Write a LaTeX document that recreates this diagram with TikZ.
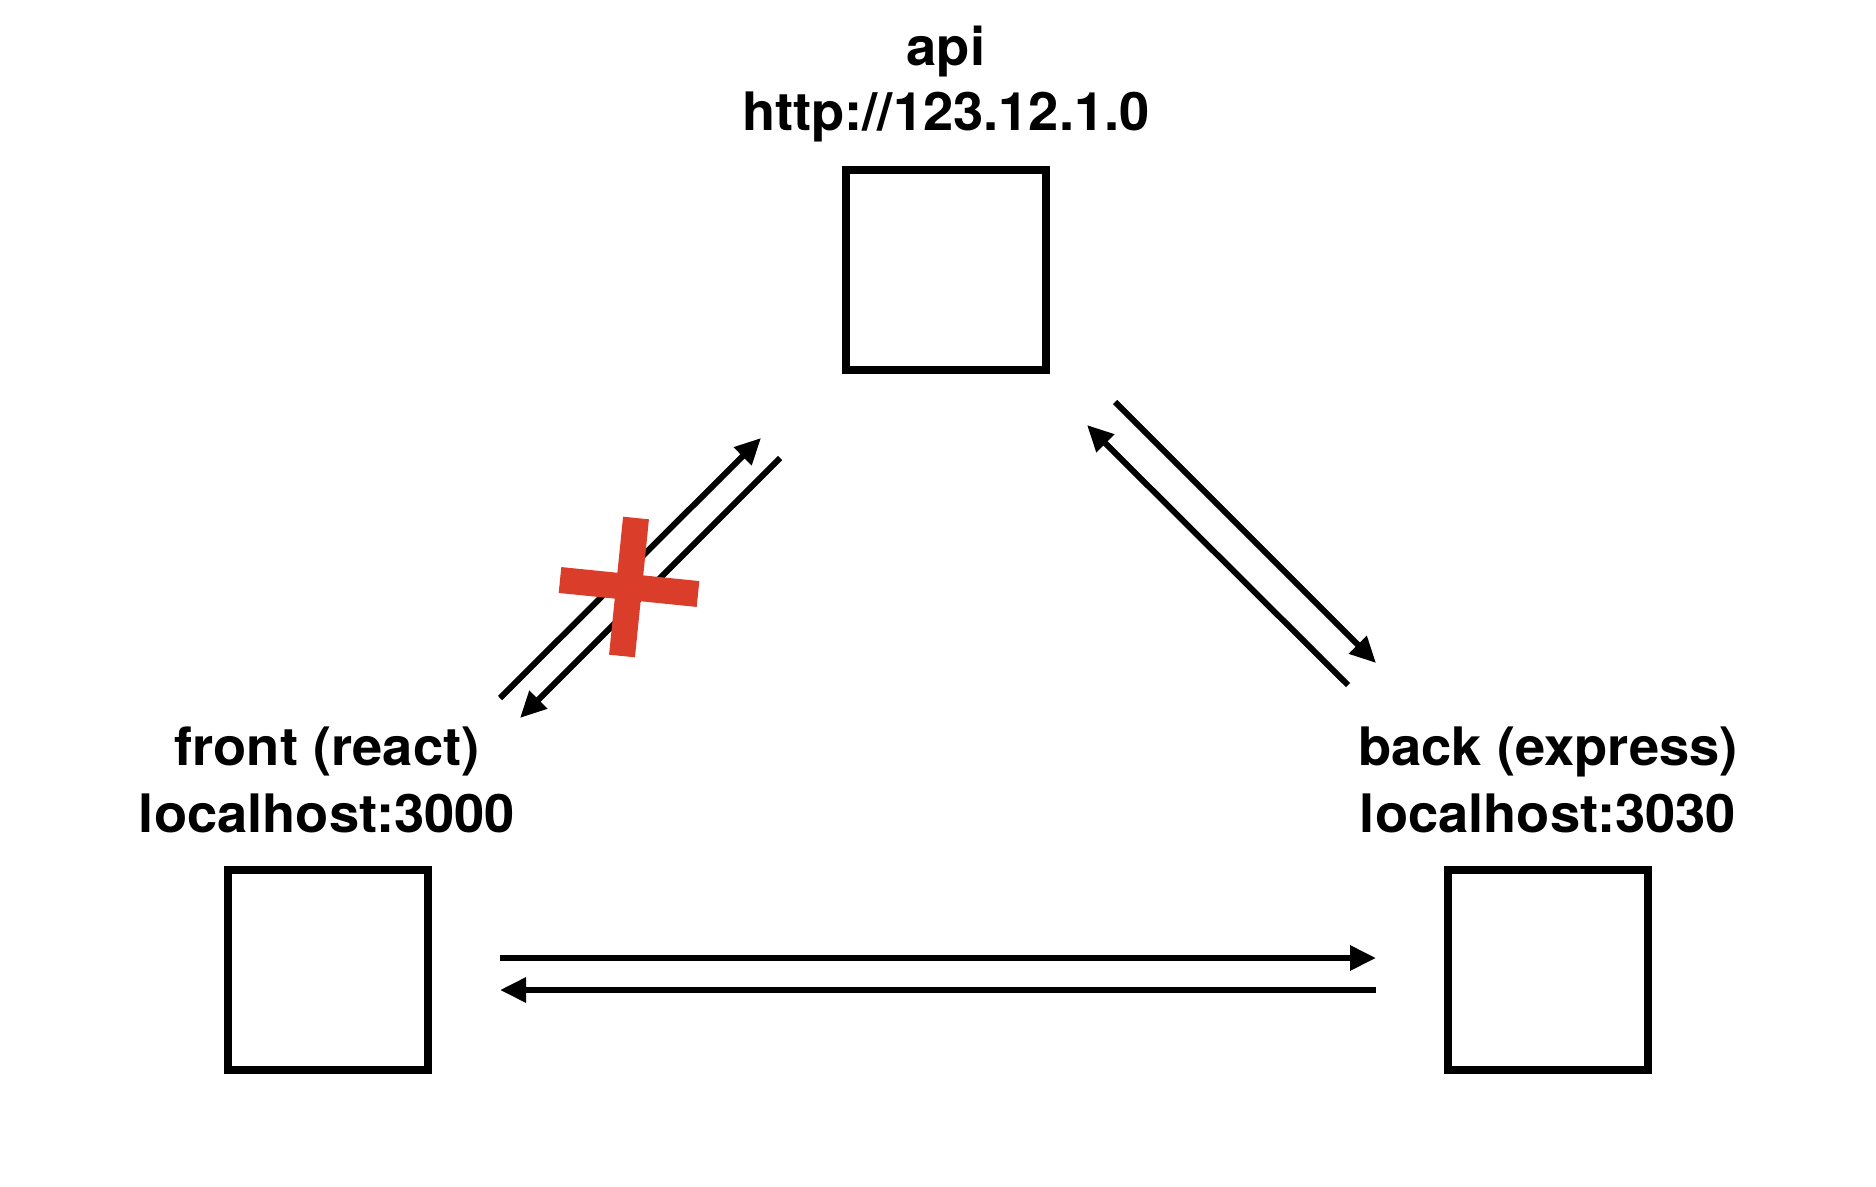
\documentclass[tikz,border=0pt]{standalone}
\usepackage{fontspec}
\setmainfont[FakeStretch=1.025]{TeX Gyre Heros}
\usetikzlibrary{arrows.meta}
\definecolor{xred}{RGB}{218,61,41}

\begin{document}
\begin{tikzpicture}[x=1pt,y=1pt]
\tikzstyle{every node}+=[inner sep=0pt]
\tikzstyle{server}=[draw=black, line width=7.5pt, minimum size=200pt]
\tikzstyle{lbl}=[anchor=base, font=\fontsize{53}{65}\selectfont\bfseries]
\tikzstyle{conn}=[black, line width=6pt, -{Triangle[length=26pt,width=24pt]}]
\useasboundingbox (0,0) rectangle (1876,-1186);
% servers
\node [server] (api) at (946,-270) {};
\node [server] (front) at (328,-970) {};
\node [server] (back) at (1548,-970) {};
\node [lbl] (apiname) at (946,-65) {api};
\node [lbl] (apiaddr) at (946,-130) {http://123.12.1.0};
\node [lbl] (frontname) at (327,-765) {front (react)};
\node [lbl] (frontaddr) at (327,-832) {localhost:3000};
\node [lbl] (backname) at (1548,-765) {back (express)};
\node [lbl] (backaddr) at (1548,-832) {localhost:3030};
% arrow ends
\coordinate (fa1) at (500,-698);
\coordinate (af1) at (761,-438);
\coordinate (af2) at (780,-458);
\coordinate (fa2) at (520,-718);
\coordinate (ab1) at (1115,-402);
\coordinate (ba1) at (1376,-663);
\coordinate (ba2) at (1348,-685);
\coordinate (ab2) at (1087,-425);
\coordinate (fb1) at (500,-958);
\coordinate (bf1) at (1376,-958);
\coordinate (bf2) at (1376,-990);
\coordinate (fb2) at (500,-990);
\draw [conn] (fa1) -- (af1);
\draw [conn] (af2) -- (fa2);
\draw [conn] (ab1) -- (ba1);
\draw [conn] (ba2) -- (ab2);
\draw [conn] (fb1) -- (bf1);
\draw [conn] (bf2) -- (fb2);
% blocked
\draw [xred, line width=26pt] (636,-518) -- (622,-656);
\draw [xred, line width=26pt] (560,-580) -- (698,-594);
\end{tikzpicture}
\end{document}
